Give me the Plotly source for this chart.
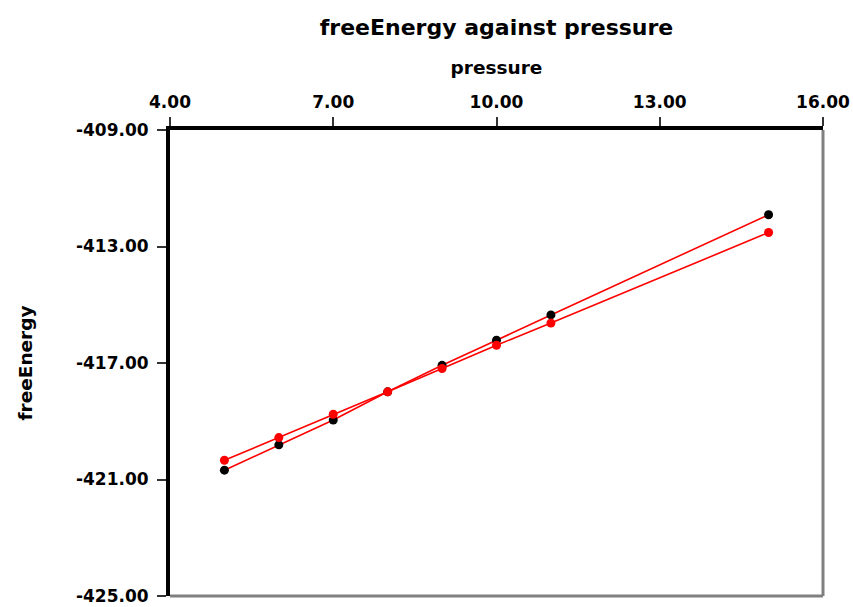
import plotly.graph_objects as go

# pressure values and the two freeEnergy series
pressure = [5, 6, 7, 8, 9, 10, 11, 15]
free_energy_a = [-420.68, -419.81, -418.96, -417.99, -417.08, -416.22, -415.35, -411.91]
free_energy_b = [-420.34, -419.56, -418.76, -417.99, -417.19, -416.39, -415.63, -412.52]

x_ticks = [4, 7, 10, 13, 16]
y_ticks = [-409, -413, -417, -421, -425]

FONT = "DejaVu Sans"
LINE_RED = "#ff0000"

fig = go.Figure()
fig.add_trace(go.Scatter(
    x=pressure, y=free_energy_a, mode="lines+markers",
    line=dict(color=LINE_RED, width=1.6),
    marker=dict(color="#000000", size=9),
    showlegend=False,
))
fig.add_trace(go.Scatter(
    x=pressure, y=free_energy_b, mode="lines+markers",
    line=dict(color=LINE_RED, width=1.6),
    marker=dict(color=LINE_RED, size=9),
    showlegend=False,
))

axis_font = dict(family=FONT, size=17, color="#000000", weight="bold")
title_font = dict(family=FONT, size=18.5, color="#000000", weight="bold")

fig.update_layout(
    width=853, height=607,
    margin=dict(l=170, r=30, t=130, b=11),
    paper_bgcolor="#ffffff",
    plot_bgcolor="#ffffff",
    title=dict(
        text="freeEnergy against pressure",
        font=dict(family=FONT, size=22, color="#000000", weight="bold"),
        x=(170 + 823) / 2 / 853, xanchor="center",
        y=1 - 27 / 607, yanchor="middle", yref="container",
    ),
    xaxis=dict(
        side="top",
        range=[4, 16],
        tickvals=x_ticks,
        ticktext=[f"{v:.2f}" for v in x_ticks],
        ticks="outside", ticklen=9, tickwidth=1.5, tickcolor="#333333",
        ticklabelstandoff=2,
        showline=True, linecolor="#000000", linewidth=4,
        showgrid=False, zeroline=False, automargin=False,
        tickfont=axis_font,
        title=dict(text="pressure", font=title_font, standoff=14),
    ),
    yaxis=dict(
        range=[-425, -409],
        tickvals=y_ticks,
        ticktext=[f"{v:.2f}" for v in y_ticks],
        ticks="outside", ticklen=9, tickwidth=1.5, tickcolor="#333333",
        ticklabelstandoff=5,
        showline=True, linecolor="#000000", linewidth=4,
        showgrid=False, zeroline=False, automargin=False,
        tickfont=axis_font,
        title=dict(text="freeEnergy", font=title_font, standoff=39),
    ),
    shapes=[
        # grey right and bottom frame edges
        dict(type="line", xref="paper", yref="paper", x0=1, x1=1, y0=0, y1=1,
             line=dict(color="#808080", width=3)),
        dict(type="line", xref="paper", yref="paper", x0=0, x1=1, y0=0, y1=0,
             line=dict(color="#808080", width=3)),
    ],
)

fig.write_html("out.html")
